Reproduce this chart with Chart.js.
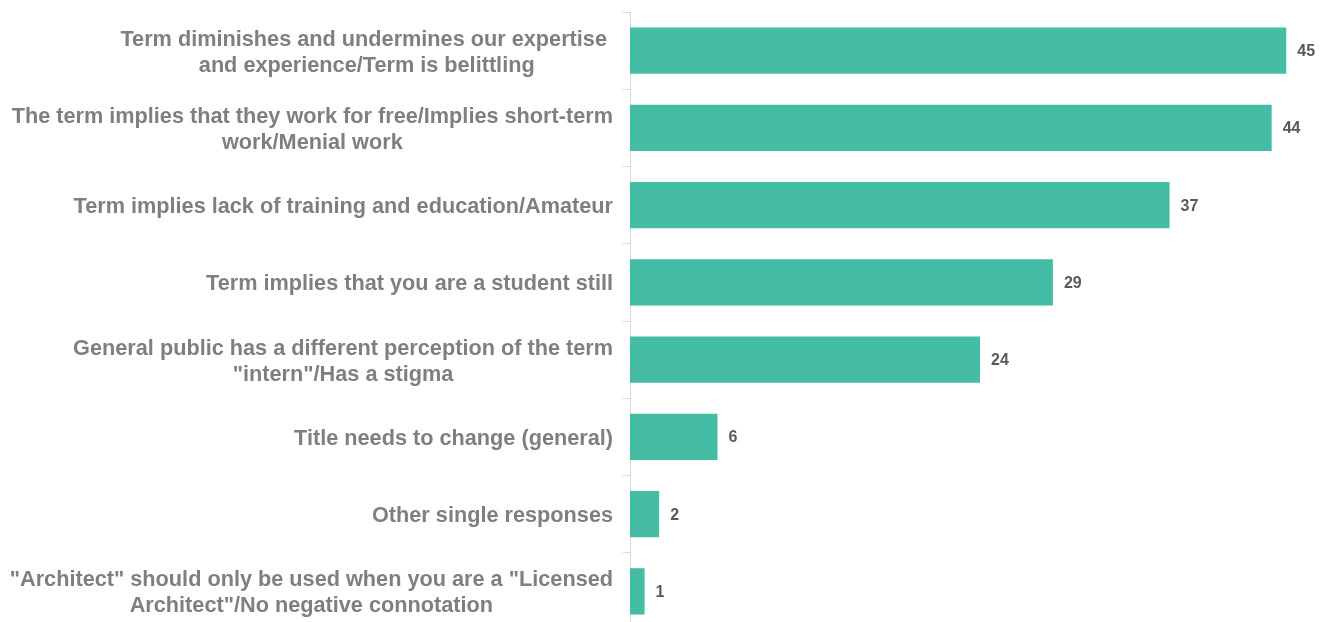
<!DOCTYPE html>
<html>
<head>
<meta charset="utf-8">
<script src="https://cdn.jsdelivr.net/npm/chart.js@4/dist/chart.umd.min.js"></script>
<style>
    html, body { margin: 0; padding: 0; background: #ffffff; overflow: hidden; }
    #wrap { position: relative; width: 1330px; height: 640px; }
</style>
</head>
<body>
<div id="wrap"><canvas id="reasonChart"></canvas></div>
<script>
const categories = [
    ["Term diminishes and undermines our expertise ", "and experience/Term is belittling"],
    ["The term implies that they work for free/Implies short-term", "work/Menial work"],
    "Term implies lack of training and education/Amateur",
    "Term implies that you are a student still",
    ["General public has a different perception of the term", "\"intern\"/Has a stigma"],
    "Title needs to change (general)",
    "Other single responses",
    ["\"Architect\" should only be used when you are a \"Licensed", "Architect\"/No negative connotation"]
];
const responses = [45, 44, 37, 29, 24, 6, 2, 1];

const LABEL_FONT = "bold 21.7px 'Liberation Sans', Arial, sans-serif";
const LABEL_LINE = 26;

// value printed just right of each bar
const barValues = {
    id: "barValues",
    afterDatasetsDraw(chart) {
        const ctx = chart.ctx;
        ctx.save();
        ctx.font = "bold 16px 'Liberation Sans', Arial, sans-serif";
        ctx.fillStyle = "#595959";
        ctx.textAlign = "left";
        ctx.textBaseline = "middle";
        chart.getDatasetMeta(0).data.forEach((bar, i) => {
            ctx.fillText(responses[i], bar.x + 11, bar.y + 1);
        });
        ctx.restore();
    }
};

// category names: block right-aligned to the axis, lines centered within the block
const categoryLabels = {
    id: "categoryLabels",
    afterDraw(chart) {
        const ctx = chart.ctx;
        const y = chart.scales.y;
        const right = chart.chartArea.left - 17;
        ctx.save();
        ctx.font = LABEL_FONT;
        ctx.fillStyle = "#7f7f7f";
        ctx.textAlign = "center";
        ctx.textBaseline = "middle";
        categories.forEach((label, i) => {
            const lines = Array.isArray(label) ? label : [label];
            const w = Math.max(...lines.map(l => ctx.measureText(l).width));
            const cx = right - w / 2;
            const cy = y.getPixelForTick(i) + 2;
            lines.forEach((line, j) => {
                ctx.fillText(line, cx, cy + (j - (lines.length - 1) / 2) * LABEL_LINE);
            });
        });
        ctx.restore();
    }
};

new Chart(document.getElementById("reasonChart"), {
    type: "bar",
    data: {
        labels: categories,
        datasets: [{
            data: responses,
            backgroundColor: "#45bda5",
            categoryPercentage: 1,
            barPercentage: 0.6
        }]
    },
    options: {
        indexAxis: "y",
        responsive: true,
        maintainAspectRatio: false,
        animation: false,
        layout: { padding: { top: 12, bottom: 10, left: 0, right: 0 } },
        plugins: {
            legend: { display: false },
            tooltip: { enabled: false }
        },
        scales: {
            x: {
                display: false,
                min: 0,
                max: 48
            },
            y: {
                afterFit(scale) {
                    scale.width = 630;
                    scale.paddingTop = 0;
                    scale.paddingBottom = 0;
                },
                border: { color: "#d9d9d9", width: 1 },
                grid: {
                    drawOnChartArea: false,
                    drawTicks: true,
                    tickLength: 7,
                    color: "#d9d9d9",
                    offset: true
                },
                ticks: { display: false }
            }
        }
    },
    plugins: [barValues, categoryLabels]
});
</script>
</body>
</html>
